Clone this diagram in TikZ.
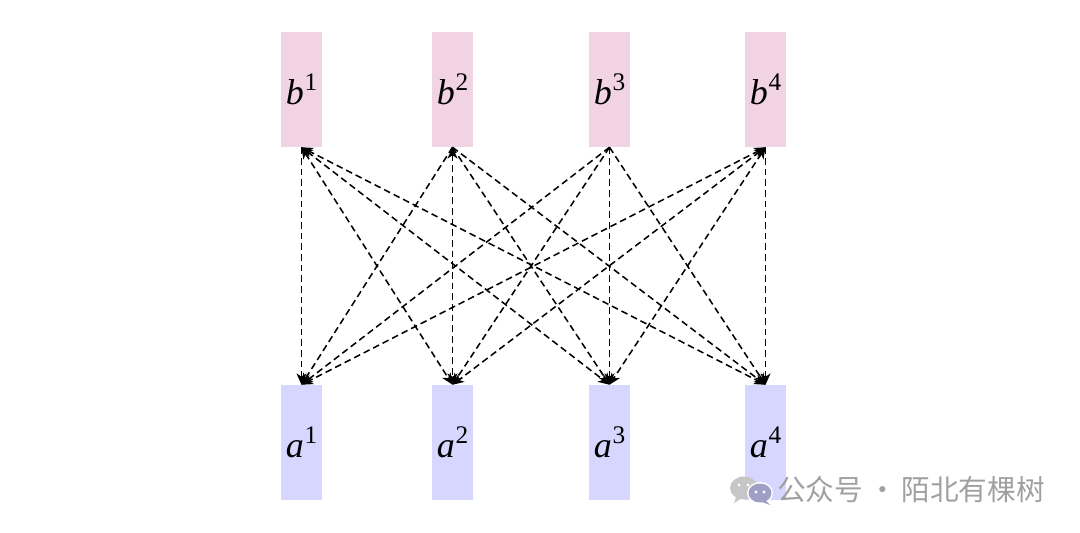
\documentclass[tikz,border=0pt]{standalone}
\usepackage{fontspec}
\setmainfont{Liberation Serif}
\newfontfamily\cjkfont{Noto Sans CJK SC}
\usetikzlibrary{arrows.meta}
\definecolor{bpink}{RGB}{241,211,227}
\definecolor{apurple}{RGB}{214,214,255}
\definecolor{wmgray}{RGB}{160,160,160}
\newcommand{\lbl}[2]{\textit{#1}\kern0.5pt\raisebox{0.40em}{\fontsize{19}{22}\selectfont #2}}
\begin{document}
\begin{tikzpicture}[x=0.75pt,y=-0.75pt,
  box/.style={minimum width=30.75pt,minimum height=86.25pt,inner sep=0pt,font=\fontsize{27}{30}\selectfont},
  bbox/.style={box,fill=bpink},
  abox/.style={box,fill=apurple},
  link/.style={line width=1.15pt,dash pattern=on 5pt off 3pt,
    >={Stealth[length=8.5pt,width=7.5pt,inset=2.5pt]}},
  edgeA/.style={link,->},
  edgeB/.style={link,<->}]
\useasboundingbox (0,0) rectangle (1080,532);
\foreach \n/\x in {1/301.5,2/452.5,3/609.5,4/765.5}{
  \node[bbox] (b\n) at (\x,89.5) {\lbl{b}{\n}};
  \node[abox] (a\n) at (\x,442.5) {\lbl{a}{\n}};
}
\foreach \i/\j/\s in {1/1/edgeA,1/2/edgeB,1/3/edgeB,1/4/edgeB,
                      2/1/edgeA,2/2/edgeB,2/3/edgeA,2/4/edgeA,
                      3/1/edgeA,3/2/edgeA,3/3/edgeA,3/4/edgeA,
                      4/1/edgeB,4/2/edgeB,4/3/edgeB,4/4/edgeA}{
  \draw[\s] (b\i.south) -- (a\j.north);
}
% watermark
\fill[gray!45] (744,488) ellipse [x radius=14,y radius=11.5];
\fill[gray!45] (736,497) -- (734,503) -- (742,498) -- cycle;
\fill[white] (760,493) ellipse [x radius=13,y radius=11];
\fill[gray!75!blue!60] (760,493) ellipse [x radius=11.5,y radius=9.5];
\fill[gray!75!blue!60] (765,500) -- (770,505) -- (762,502) -- cycle;
\fill[white] (756,492) circle (1.6);
\fill[white] (764,492) circle (1.6);
\fill[white] (739,485) circle (1.6);
\fill[white] (748,485) circle (1.6);
\node[anchor=west,inner sep=0pt,text=wmgray,font=\cjkfont\fontsize{21.5}{24}\selectfont] (wm) at (777,490) {公众号\,·\,陌北有棵树};
\end{tikzpicture}
\end{document}
